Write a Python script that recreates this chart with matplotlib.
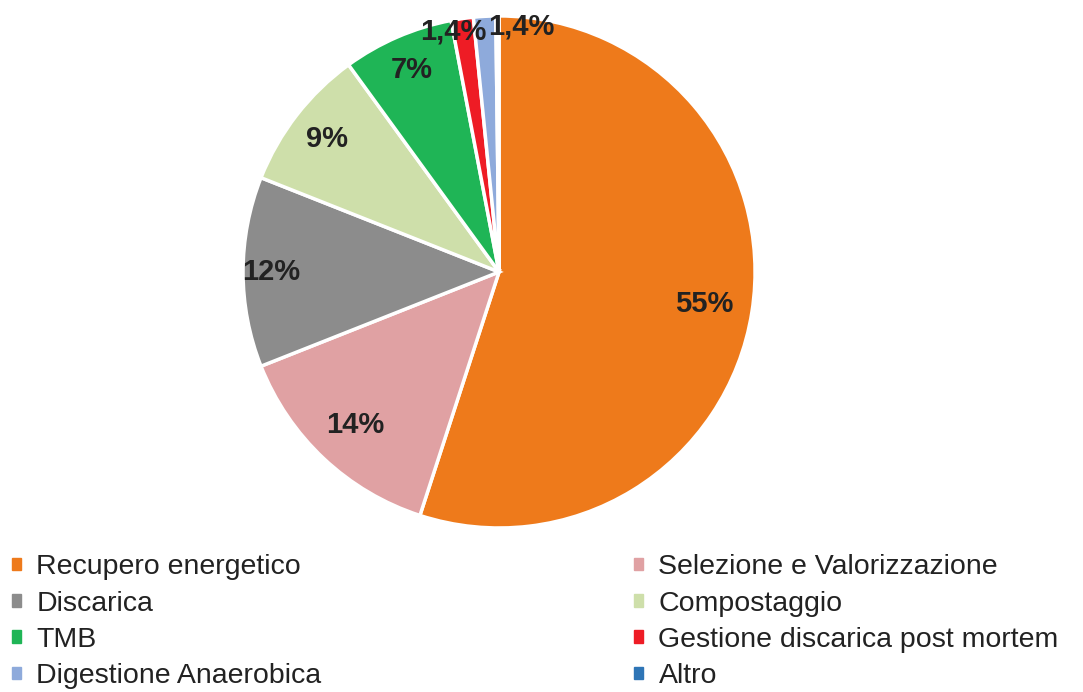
import matplotlib.pyplot as plt
import numpy as np

# dati (quote percentuali, ordine orario da ore 12)
categorie = ["Recupero energetico", "Selezione e Valorizzazione", "Discarica",
             "Compostaggio", "TMB", "Gestione discarica post mortem",
             "Digestione Anaerobica", "Altro"]
valori = [55, 14, 12, 9, 7, 1.4, 1.4, 0.2]
etichette = ["55%", "14%", "12%", "9%", "7%", "1,4%", "1,4%", ""]
colori = ["#EE7A1B", "#E0A1A3", "#8C8C8C", "#CEDFAA", "#1FB556",
          "#EE1C25", "#8EAADB", "#2E75B6"]

plt.rcParams['font.family'] = ['Liberation Sans', 'DejaVu Sans']

fig = plt.figure(figsize=(10.83, 6.92), dpi=100)
ax = fig.add_axes([0.2244, 0.237, 0.4728, 0.740])

wedges, _ = ax.pie(valori, colors=colori, startangle=90, counterclock=False,
                   radius=1, wedgeprops=dict(edgecolor="white", linewidth=2.5))
ax.set_xlim(-1, 1)
ax.set_ylim(-1, 1)
ax.set_aspect("equal")
ax.axis("off")

# posizione etichette (distanza dal centro, spostamento x)
dist = [0.81, 0.82, 0.89, 0.85, 0.86, 0.95, 0.96, 0.9]
dx = [0.0, 0.0, 0.0, 0.0, 0.0, -0.04, 0.14, 0.0]
for w, lab, d, sx in zip(wedges, etichette, dist, dx):
    if not lab:
        continue
    ang = np.deg2rad((w.theta1 + w.theta2) / 2)
    ax.text(d * np.cos(ang) + sx, d * np.sin(ang), lab, ha="center", va="center",
            fontsize=21, fontweight="bold", color="#222222", clip_on=False)

# legenda in due colonne
def legenda(idx, x):
    handles = [plt.Rectangle((0, 0), 1, 1, color=colori[i]) for i in idx]
    leg = fig.legend(handles, [categorie[i] for i in idx], loc="upper left",
                     bbox_to_anchor=(x, 0.236), frameon=False, fontsize=20.5,
                     handlelength=0.3, handleheight=0.3, handletextpad=0.55,
                     labelspacing=0.36, labelcolor="#222222")
    return leg

legenda([0, 2, 4, 6], -0.0125)
legenda([1, 3, 5, 7], 0.562)

fig.savefig("out.png", dpi=100)
